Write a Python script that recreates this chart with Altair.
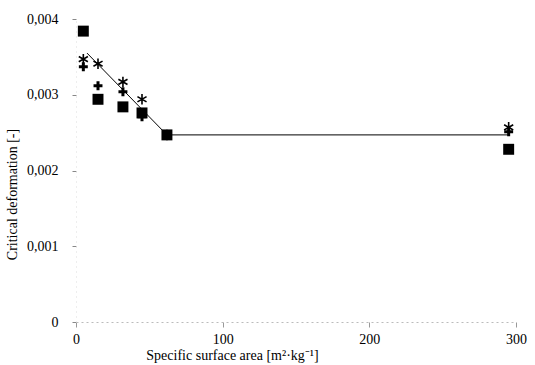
import altair as alt
import pandas as pd

# Specific surface area [m2/kg]
x_vals = [5, 15, 32, 45, 62, 295]
square_y = [0.00384, 0.00294, 0.00284, 0.00276, 0.00247, 0.00228]
plus_y = [0.00337, 0.00312, 0.00304, 0.00271, 0.00247, 0.00251]
star_y = [0.00347, 0.00341, 0.00317, 0.00294, 0.00247, 0.00257]

line_x = [7.5, 62, 295]
line_y = [0.00355, 0.00247, 0.00247]

sq = pd.DataFrame({"x": x_vals, "y": square_y})
pl = pd.DataFrame({"x": x_vals, "y": plus_y})
st = pd.DataFrame({"x": x_vals, "y": star_y})
ln = pd.DataFrame({"x": line_x, "y": line_y})

FONT = "Liberation Serif, Times New Roman, Times, serif"

xscale = alt.Scale(domain=[0, 300], nice=False)
yscale = alt.Scale(domain=[0, 0.004], nice=False)

xenc = alt.X(
    "x:Q",
    scale=xscale,
    axis=alt.Axis(
        title="Specific surface area [m²·kg⁻¹]",
        values=[0, 100, 200, 300],
        labelExpr="datum.value",
        labelFlush=False,
        tickSize=5,
        tickColor="#999",
        domainColor="#bbb",
        domainDash=[2, 3],
        labelPadding=5,
        labelFont=FONT,
        labelFontSize=14,
        labelColor="black",
        titleFont=FONT,
        titleFontSize=14,
        titleFontWeight="normal",
        titleColor="black",
        titleX=156,
        titleY=26,
        titleAnchor="middle",
        grid=False,
    ),
)
yenc = alt.Y(
    "y:Q",
    scale=yscale,
    axis=alt.Axis(
        title="Critical deformation [-]",
        values=[0, 0.0005, 0.001, 0.0015, 0.002, 0.0025, 0.003, 0.0035, 0.004],
        labelExpr="datum.value == 0 ? '0' : (round(datum.value*10000) % 10 == 0 ? replace(format(datum.value, '.3f'), '.', ',') : '')",
        labelFlush=False,
        tickSize=4,
        tickColor="#888",
        domainColor="#ddd",
        domainDash=[1, 4],
        labelPadding=14,
        labelFont=FONT,
        labelFontSize=14,
        labelColor="black",
        titleFont=FONT,
        titleFontSize=14,
        titleFontWeight="normal",
        titleColor="black",
        titleX=-57,
        titleY=175,
        titleAnchor="middle",
        grid=False,
    ),
)

line = alt.Chart(ln).mark_line(color="black", strokeWidth=1).encode(x=xenc, y=yenc)

star_path = "M0,-1L0,1M-0.87,-0.5L0.87,0.5M-0.87,0.5L0.87,-0.5"
stars = alt.Chart(st).mark_point(
    shape=star_path, filled=False, color="black", strokeWidth=1.6, size=110, opacity=1
).encode(x="x:Q", y="y:Q")

plus_path = "M0,-1L0,1M-1,0L1,0"
pluses = alt.Chart(pl).mark_point(
    shape=plus_path, filled=False, color="black", strokeWidth=3, size=80, opacity=1
).encode(x="x:Q", y="y:Q")

squares = alt.Chart(sq).mark_point(
    shape="square", filled=True, color="black", size=120, opacity=1
).encode(x="x:Q", y="y:Q")

chart = (
    alt.layer(line, pluses, stars, squares)
    .properties(
        width=440,
        height=303,
        autosize=alt.AutoSizeParams(type="none"),
        padding={"left": 76, "top": 19, "right": 19, "bottom": 43},
        background="white",
    )
    .configure_view(stroke=None)
)

chart.save("out.html", embed_options={"renderer": "svg", "actions": False})
